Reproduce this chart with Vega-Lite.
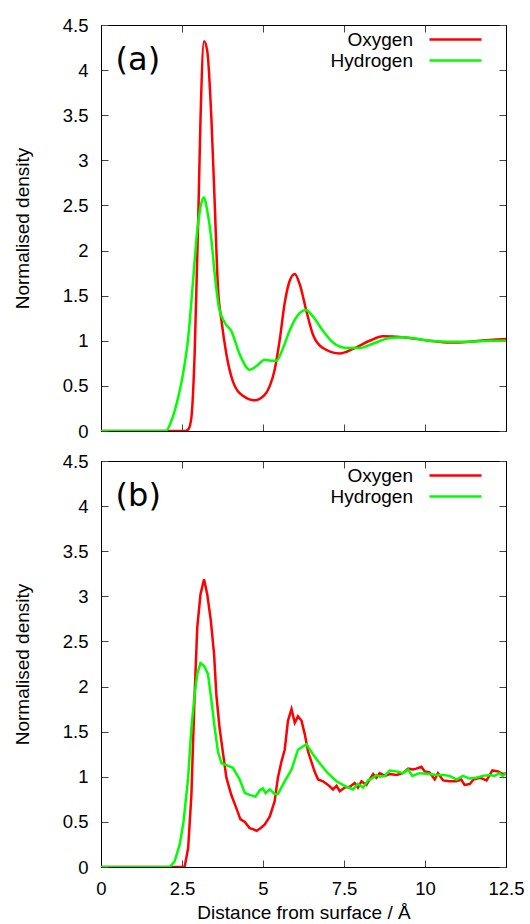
{
  "$schema": "https://vega.github.io/schema/vega-lite/v6.json",
  "padding": {"left": 12, "top": 15, "right": 5, "bottom": 5},
  "background": "white",
  "bounds": "flush",
  "spacing": 30,
  "config": {
    "font": "Liberation Sans",
    "view": {"stroke": "black", "strokeWidth": 1},
    "axis": {
      "grid": false,
      "domainColor": "black",
      "tickColor": "#444444",
      "tickSize": -7,
      "labelFontSize": 18.5,
      "labelColor": "black",
      "titleFontSize": 19,
      "titleFontWeight": "normal",
      "titleColor": "black",
      "labelFlush": false,
      "labelOverlap": false
    },
    "legend": {
      "orient": "top-right",
      "title": null,
      "symbolType": "M-2.89,0H2.89M4.61,0",
      "symbolSize": 324,
      "symbolStrokeWidth": 2.5,
      "labelFont": "Liberation Sans",
      "labelFontSize": 19,
      "labelColor": "black",
      "labelAlign": "right",
      "labelOffset": -53,
      "offset": 4,
      "padding": 0,
      "rowPadding": -1
    }
  },
  "datasets": {
    "a": [
      {"s": "Oxygen", "x": 0, "y": 0},
      {"s": "Oxygen", "x": 2.6, "y": 0},
      {"s": "Oxygen", "x": 2.7, "y": 0.02},
      {"s": "Oxygen", "x": 2.79, "y": 0.15},
      {"s": "Oxygen", "x": 2.89, "y": 0.85},
      {"s": "Oxygen", "x": 3.0, "y": 2.33},
      {"s": "Oxygen", "x": 3.07, "y": 3.44},
      {"s": "Oxygen", "x": 3.18, "y": 4.32},
      {"s": "Oxygen", "x": 3.28, "y": 4.21},
      {"s": "Oxygen", "x": 3.41, "y": 3.44},
      {"s": "Oxygen", "x": 3.51, "y": 2.52},
      {"s": "Oxygen", "x": 3.61, "y": 1.59},
      {"s": "Oxygen", "x": 3.72, "y": 1.22},
      {"s": "Oxygen", "x": 3.87, "y": 0.85},
      {"s": "Oxygen", "x": 4.07, "y": 0.55},
      {"s": "Oxygen", "x": 4.38, "y": 0.39},
      {"s": "Oxygen", "x": 4.74, "y": 0.34},
      {"s": "Oxygen", "x": 5.05, "y": 0.4},
      {"s": "Oxygen", "x": 5.21, "y": 0.5},
      {"s": "Oxygen", "x": 5.36, "y": 0.68},
      {"s": "Oxygen", "x": 5.52, "y": 1.02},
      {"s": "Oxygen", "x": 5.67, "y": 1.42},
      {"s": "Oxygen", "x": 5.82, "y": 1.66},
      {"s": "Oxygen", "x": 5.98, "y": 1.74},
      {"s": "Oxygen", "x": 6.13, "y": 1.63},
      {"s": "Oxygen", "x": 6.34, "y": 1.33},
      {"s": "Oxygen", "x": 6.54, "y": 1.07},
      {"s": "Oxygen", "x": 6.85, "y": 0.92},
      {"s": "Oxygen", "x": 7.37, "y": 0.86},
      {"s": "Oxygen", "x": 7.78, "y": 0.91},
      {"s": "Oxygen", "x": 8.29, "y": 1.0},
      {"s": "Oxygen", "x": 8.7, "y": 1.05},
      {"s": "Oxygen", "x": 9.32, "y": 1.04},
      {"s": "Oxygen", "x": 10.14, "y": 1.0},
      {"s": "Oxygen", "x": 10.76, "y": 0.98},
      {"s": "Oxygen", "x": 11.38, "y": 0.99},
      {"s": "Oxygen", "x": 12.0, "y": 1.01},
      {"s": "Oxygen", "x": 12.5, "y": 1.02},
      {"s": "Hydrogen", "x": 0, "y": 0},
      {"s": "Hydrogen", "x": 2.0, "y": 0},
      {"s": "Hydrogen", "x": 2.17, "y": 0.11},
      {"s": "Hydrogen", "x": 2.38, "y": 0.37},
      {"s": "Hydrogen", "x": 2.53, "y": 0.63},
      {"s": "Hydrogen", "x": 2.69, "y": 1.03},
      {"s": "Hydrogen", "x": 2.84, "y": 1.66},
      {"s": "Hydrogen", "x": 2.96, "y": 2.18},
      {"s": "Hydrogen", "x": 3.07, "y": 2.48},
      {"s": "Hydrogen", "x": 3.18, "y": 2.59},
      {"s": "Hydrogen", "x": 3.28, "y": 2.44},
      {"s": "Hydrogen", "x": 3.41, "y": 2.11},
      {"s": "Hydrogen", "x": 3.51, "y": 1.74},
      {"s": "Hydrogen", "x": 3.64, "y": 1.37},
      {"s": "Hydrogen", "x": 3.82, "y": 1.2},
      {"s": "Hydrogen", "x": 4.02, "y": 1.11},
      {"s": "Hydrogen", "x": 4.28, "y": 0.85},
      {"s": "Hydrogen", "x": 4.59, "y": 0.68},
      {"s": "Hydrogen", "x": 4.8, "y": 0.72},
      {"s": "Hydrogen", "x": 5.05, "y": 0.79},
      {"s": "Hydrogen", "x": 5.25, "y": 0.78},
      {"s": "Hydrogen", "x": 5.41, "y": 0.78},
      {"s": "Hydrogen", "x": 5.62, "y": 0.92},
      {"s": "Hydrogen", "x": 5.82, "y": 1.11},
      {"s": "Hydrogen", "x": 6.03, "y": 1.26},
      {"s": "Hydrogen", "x": 6.32, "y": 1.34},
      {"s": "Hydrogen", "x": 6.54, "y": 1.27},
      {"s": "Hydrogen", "x": 6.85, "y": 1.11},
      {"s": "Hydrogen", "x": 7.16, "y": 0.98},
      {"s": "Hydrogen", "x": 7.57, "y": 0.92},
      {"s": "Hydrogen", "x": 7.98, "y": 0.92},
      {"s": "Hydrogen", "x": 8.4, "y": 0.97},
      {"s": "Hydrogen", "x": 8.91, "y": 1.03},
      {"s": "Hydrogen", "x": 9.32, "y": 1.04},
      {"s": "Hydrogen", "x": 10.14, "y": 1.0},
      {"s": "Hydrogen", "x": 10.76, "y": 0.99},
      {"s": "Hydrogen", "x": 11.38, "y": 0.99},
      {"s": "Hydrogen", "x": 12.0, "y": 1.0},
      {"s": "Hydrogen", "x": 12.5, "y": 1.0}
    ],
    "b": [
      {"s": "Oxygen", "x": 0, "y": 0},
      {"s": "Oxygen", "x": 2.58, "y": 0},
      {"s": "Oxygen", "x": 2.69, "y": 0.21},
      {"s": "Oxygen", "x": 2.79, "y": 0.8},
      {"s": "Oxygen", "x": 2.89, "y": 1.91},
      {"s": "Oxygen", "x": 2.97, "y": 2.65},
      {"s": "Oxygen", "x": 3.07, "y": 3.02},
      {"s": "Oxygen", "x": 3.18, "y": 3.19},
      {"s": "Oxygen", "x": 3.28, "y": 3.02},
      {"s": "Oxygen", "x": 3.39, "y": 2.73},
      {"s": "Oxygen", "x": 3.49, "y": 2.36},
      {"s": "Oxygen", "x": 3.56, "y": 1.91},
      {"s": "Oxygen", "x": 3.66, "y": 1.54},
      {"s": "Oxygen", "x": 3.77, "y": 1.25},
      {"s": "Oxygen", "x": 3.87, "y": 0.99},
      {"s": "Oxygen", "x": 4.02, "y": 0.8},
      {"s": "Oxygen", "x": 4.18, "y": 0.65},
      {"s": "Oxygen", "x": 4.3, "y": 0.53},
      {"s": "Oxygen", "x": 4.44, "y": 0.5},
      {"s": "Oxygen", "x": 4.59, "y": 0.43},
      {"s": "Oxygen", "x": 4.69, "y": 0.42},
      {"s": "Oxygen", "x": 4.8, "y": 0.4},
      {"s": "Oxygen", "x": 4.92, "y": 0.43},
      {"s": "Oxygen", "x": 5.05, "y": 0.47},
      {"s": "Oxygen", "x": 5.21, "y": 0.56},
      {"s": "Oxygen", "x": 5.36, "y": 0.73},
      {"s": "Oxygen", "x": 5.46, "y": 0.99},
      {"s": "Oxygen", "x": 5.57, "y": 1.17},
      {"s": "Oxygen", "x": 5.67, "y": 1.3},
      {"s": "Oxygen", "x": 5.77, "y": 1.62},
      {"s": "Oxygen", "x": 5.88, "y": 1.75},
      {"s": "Oxygen", "x": 5.98, "y": 1.6},
      {"s": "Oxygen", "x": 6.08, "y": 1.67},
      {"s": "Oxygen", "x": 6.19, "y": 1.62},
      {"s": "Oxygen", "x": 6.29, "y": 1.47},
      {"s": "Oxygen", "x": 6.39, "y": 1.28},
      {"s": "Oxygen", "x": 6.49, "y": 1.17},
      {"s": "Oxygen", "x": 6.59, "y": 1.06},
      {"s": "Oxygen", "x": 6.7, "y": 0.97},
      {"s": "Oxygen", "x": 6.85, "y": 0.95},
      {"s": "Oxygen", "x": 7.01, "y": 0.91},
      {"s": "Oxygen", "x": 7.16, "y": 0.86},
      {"s": "Oxygen", "x": 7.27, "y": 0.9},
      {"s": "Oxygen", "x": 7.37, "y": 0.84},
      {"s": "Oxygen", "x": 7.52, "y": 0.88},
      {"s": "Oxygen", "x": 7.68, "y": 0.89},
      {"s": "Oxygen", "x": 7.83, "y": 0.93},
      {"s": "Oxygen", "x": 7.93, "y": 0.88},
      {"s": "Oxygen", "x": 8.04, "y": 0.95},
      {"s": "Oxygen", "x": 8.19, "y": 0.91},
      {"s": "Oxygen", "x": 8.29, "y": 0.97},
      {"s": "Oxygen", "x": 8.4, "y": 1.03},
      {"s": "Oxygen", "x": 8.5, "y": 0.99},
      {"s": "Oxygen", "x": 8.6, "y": 1.04},
      {"s": "Oxygen", "x": 8.76, "y": 1.01},
      {"s": "Oxygen", "x": 8.91, "y": 1.03},
      {"s": "Oxygen", "x": 9.12, "y": 1.02},
      {"s": "Oxygen", "x": 9.32, "y": 1.04},
      {"s": "Oxygen", "x": 9.48, "y": 1.09},
      {"s": "Oxygen", "x": 9.63, "y": 1.08},
      {"s": "Oxygen", "x": 9.73, "y": 1.09},
      {"s": "Oxygen", "x": 9.89, "y": 1.11},
      {"s": "Oxygen", "x": 9.99, "y": 1.06},
      {"s": "Oxygen", "x": 10.14, "y": 1.05},
      {"s": "Oxygen", "x": 10.3, "y": 0.97},
      {"s": "Oxygen", "x": 10.4, "y": 1.04},
      {"s": "Oxygen", "x": 10.56, "y": 0.96},
      {"s": "Oxygen", "x": 10.76, "y": 0.95},
      {"s": "Oxygen", "x": 10.97, "y": 0.95},
      {"s": "Oxygen", "x": 11.12, "y": 0.97},
      {"s": "Oxygen", "x": 11.22, "y": 0.91},
      {"s": "Oxygen", "x": 11.38, "y": 0.92},
      {"s": "Oxygen", "x": 11.5, "y": 0.97},
      {"s": "Oxygen", "x": 11.69, "y": 0.99},
      {"s": "Oxygen", "x": 11.9, "y": 0.96},
      {"s": "Oxygen", "x": 12.08, "y": 1.07},
      {"s": "Oxygen", "x": 12.25, "y": 1.06},
      {"s": "Oxygen", "x": 12.41, "y": 1.03},
      {"s": "Oxygen", "x": 12.5, "y": 1.04},
      {"s": "Hydrogen", "x": 0, "y": 0},
      {"s": "Hydrogen", "x": 2.12, "y": 0},
      {"s": "Hydrogen", "x": 2.27, "y": 0.06},
      {"s": "Hydrogen", "x": 2.43, "y": 0.25},
      {"s": "Hydrogen", "x": 2.55, "y": 0.51},
      {"s": "Hydrogen", "x": 2.69, "y": 0.99},
      {"s": "Hydrogen", "x": 2.79, "y": 1.54},
      {"s": "Hydrogen", "x": 2.89, "y": 1.91},
      {"s": "Hydrogen", "x": 2.97, "y": 2.14},
      {"s": "Hydrogen", "x": 3.07, "y": 2.26},
      {"s": "Hydrogen", "x": 3.18, "y": 2.23},
      {"s": "Hydrogen", "x": 3.3, "y": 2.14},
      {"s": "Hydrogen", "x": 3.41, "y": 1.84},
      {"s": "Hydrogen", "x": 3.51, "y": 1.54},
      {"s": "Hydrogen", "x": 3.61, "y": 1.28},
      {"s": "Hydrogen", "x": 3.72, "y": 1.15},
      {"s": "Hydrogen", "x": 3.87, "y": 1.13},
      {"s": "Hydrogen", "x": 4.07, "y": 1.1},
      {"s": "Hydrogen", "x": 4.28, "y": 0.97},
      {"s": "Hydrogen", "x": 4.44, "y": 0.82},
      {"s": "Hydrogen", "x": 4.59, "y": 0.8},
      {"s": "Hydrogen", "x": 4.77, "y": 0.78},
      {"s": "Hydrogen", "x": 4.9, "y": 0.85},
      {"s": "Hydrogen", "x": 5.0, "y": 0.87},
      {"s": "Hydrogen", "x": 5.08, "y": 0.82},
      {"s": "Hydrogen", "x": 5.21, "y": 0.86},
      {"s": "Hydrogen", "x": 5.36, "y": 0.81},
      {"s": "Hydrogen", "x": 5.46, "y": 0.81},
      {"s": "Hydrogen", "x": 5.67, "y": 0.95},
      {"s": "Hydrogen", "x": 5.88, "y": 1.08},
      {"s": "Hydrogen", "x": 6.08, "y": 1.3},
      {"s": "Hydrogen", "x": 6.34, "y": 1.36},
      {"s": "Hydrogen", "x": 6.54, "y": 1.25},
      {"s": "Hydrogen", "x": 6.75, "y": 1.15},
      {"s": "Hydrogen", "x": 7.0, "y": 1.04},
      {"s": "Hydrogen", "x": 7.27, "y": 0.95},
      {"s": "Hydrogen", "x": 7.52, "y": 0.9},
      {"s": "Hydrogen", "x": 7.78, "y": 0.86},
      {"s": "Hydrogen", "x": 7.93, "y": 0.92},
      {"s": "Hydrogen", "x": 8.09, "y": 0.88},
      {"s": "Hydrogen", "x": 8.24, "y": 0.96},
      {"s": "Hydrogen", "x": 8.4, "y": 0.99},
      {"s": "Hydrogen", "x": 8.5, "y": 1.02},
      {"s": "Hydrogen", "x": 8.6, "y": 1.0},
      {"s": "Hydrogen", "x": 8.76, "y": 1.01},
      {"s": "Hydrogen", "x": 8.91, "y": 1.07},
      {"s": "Hydrogen", "x": 9.12, "y": 1.06},
      {"s": "Hydrogen", "x": 9.32, "y": 1.04},
      {"s": "Hydrogen", "x": 9.48, "y": 1.08},
      {"s": "Hydrogen", "x": 9.61, "y": 1.01},
      {"s": "Hydrogen", "x": 9.83, "y": 1.04},
      {"s": "Hydrogen", "x": 10.14, "y": 1.03},
      {"s": "Hydrogen", "x": 10.35, "y": 1.02},
      {"s": "Hydrogen", "x": 10.56, "y": 1.02},
      {"s": "Hydrogen", "x": 10.76, "y": 1.01},
      {"s": "Hydrogen", "x": 10.97, "y": 0.97},
      {"s": "Hydrogen", "x": 11.17, "y": 1.01},
      {"s": "Hydrogen", "x": 11.38, "y": 0.98},
      {"s": "Hydrogen", "x": 11.58, "y": 0.99},
      {"s": "Hydrogen", "x": 11.79, "y": 1.01},
      {"s": "Hydrogen", "x": 12.0, "y": 1.02},
      {"s": "Hydrogen", "x": 12.14, "y": 1.01},
      {"s": "Hydrogen", "x": 12.3, "y": 1.04},
      {"s": "Hydrogen", "x": 12.4, "y": 1.01},
      {"s": "Hydrogen", "x": 12.5, "y": 1.04}
    ]
  },
  "resolve": {"legend": {"color": "independent"}},
  "vconcat": [
    {
      "width": 405,
      "height": 406,
      "layer": [
        {
          "data": {"name": "a"},
          "mark": {"type": "line", "strokeWidth": 2.5, "interpolate": "monotone", "clip": true},
          "encoding": {
            "x": {"field": "x", "type": "quantitative", "scale": {"domain": [0, 12.5], "nice": false},
                  "axis": {"orient": "bottom", "values": [0, 2.5, 5, 7.5, 10, 12.5], "labels": false, "title": null}},
            "y": {"field": "y", "type": "quantitative", "scale": {"domain": [0, 4.5], "nice": false},
                  "axis": {"orient": "left", "values": [0, 0.5, 1, 1.5, 2, 2.5, 3, 3.5, 4, 4.5], "format": ".3~g", "labelPadding": 20, "title": "Normalised density", "titlePadding": 30}},
            "color": {"field": "s", "type": "nominal", "sort": ["Oxygen", "Hydrogen"],
                      "scale": {"domain": ["Oxygen", "Hydrogen"], "range": ["#ff0000", "#00ff00"]}}
          }
        },
        {
          "data": {"name": "a"},
          "mark": {"type": "line", "opacity": 0},
          "encoding": {
            "x": {"field": "x", "type": "quantitative", "axis": {"orient": "top", "values": [0, 2.5, 5, 7.5, 10, 12.5], "labels": false, "title": null}},
            "y": {"field": "y", "type": "quantitative", "axis": {"orient": "right", "values": [0, 0.5, 1, 1.5, 2, 2.5, 3, 3.5, 4, 4.5], "labels": false, "title": null}},
            "detail": {"field": "s"}
          }
        },
        {
          "data": {"values": [{"label": "(a)"}]},
          "mark": {"type": "text", "align": "left", "baseline": "alphabetic", "font": "DejaVu Sans", "fontSize": 32, "color": "black"},
          "encoding": {
            "x": {"datum": 0.45, "type": "quantitative", "axis": null},
            "y": {"datum": 4.0, "type": "quantitative", "axis": null},
            "text": {"field": "label"}
          }
        }
      ],
      "resolve": {"axis": {"x": "independent", "y": "independent"}}
    },
    {
      "width": 405,
      "height": 406,
      "layer": [
        {
          "data": {"name": "b"},
          "mark": {"type": "line", "strokeWidth": 2.5, "clip": true},
          "encoding": {
            "x": {"field": "x", "type": "quantitative", "scale": {"domain": [0, 12.5], "nice": false},
                  "axis": {"orient": "bottom", "values": [0, 2.5, 5, 7.5, 10, 12.5], "format": ".3~g", "labelPadding": 19, "title": "Distance from surface / Å", "titlePadding": 6}},
            "y": {"field": "y", "type": "quantitative", "scale": {"domain": [0, 4.5], "nice": false},
                  "axis": {"orient": "left", "values": [0, 0.5, 1, 1.5, 2, 2.5, 3, 3.5, 4, 4.5], "format": ".3~g", "labelPadding": 20, "title": "Normalised density", "titlePadding": 30}},
            "color": {"field": "s", "type": "nominal", "sort": ["Oxygen", "Hydrogen"],
                      "scale": {"domain": ["Oxygen", "Hydrogen"], "range": ["#ff0000", "#00ff00"]}}
          }
        },
        {
          "data": {"name": "b"},
          "mark": {"type": "line", "opacity": 0},
          "encoding": {
            "x": {"field": "x", "type": "quantitative", "axis": {"orient": "top", "values": [0, 2.5, 5, 7.5, 10, 12.5], "labels": false, "title": null}},
            "y": {"field": "y", "type": "quantitative", "axis": {"orient": "right", "values": [0, 0.5, 1, 1.5, 2, 2.5, 3, 3.5, 4, 4.5], "labels": false, "title": null}},
            "detail": {"field": "s"}
          }
        },
        {
          "data": {"values": [{"label": "(b)"}]},
          "mark": {"type": "text", "align": "left", "baseline": "alphabetic", "font": "DejaVu Sans", "fontSize": 32, "color": "black"},
          "encoding": {
            "x": {"datum": 0.45, "type": "quantitative", "axis": null},
            "y": {"datum": 4.0, "type": "quantitative", "axis": null},
            "text": {"field": "label"}
          }
        }
      ],
      "resolve": {"axis": {"x": "independent", "y": "independent"}}
    }
  ]
}
